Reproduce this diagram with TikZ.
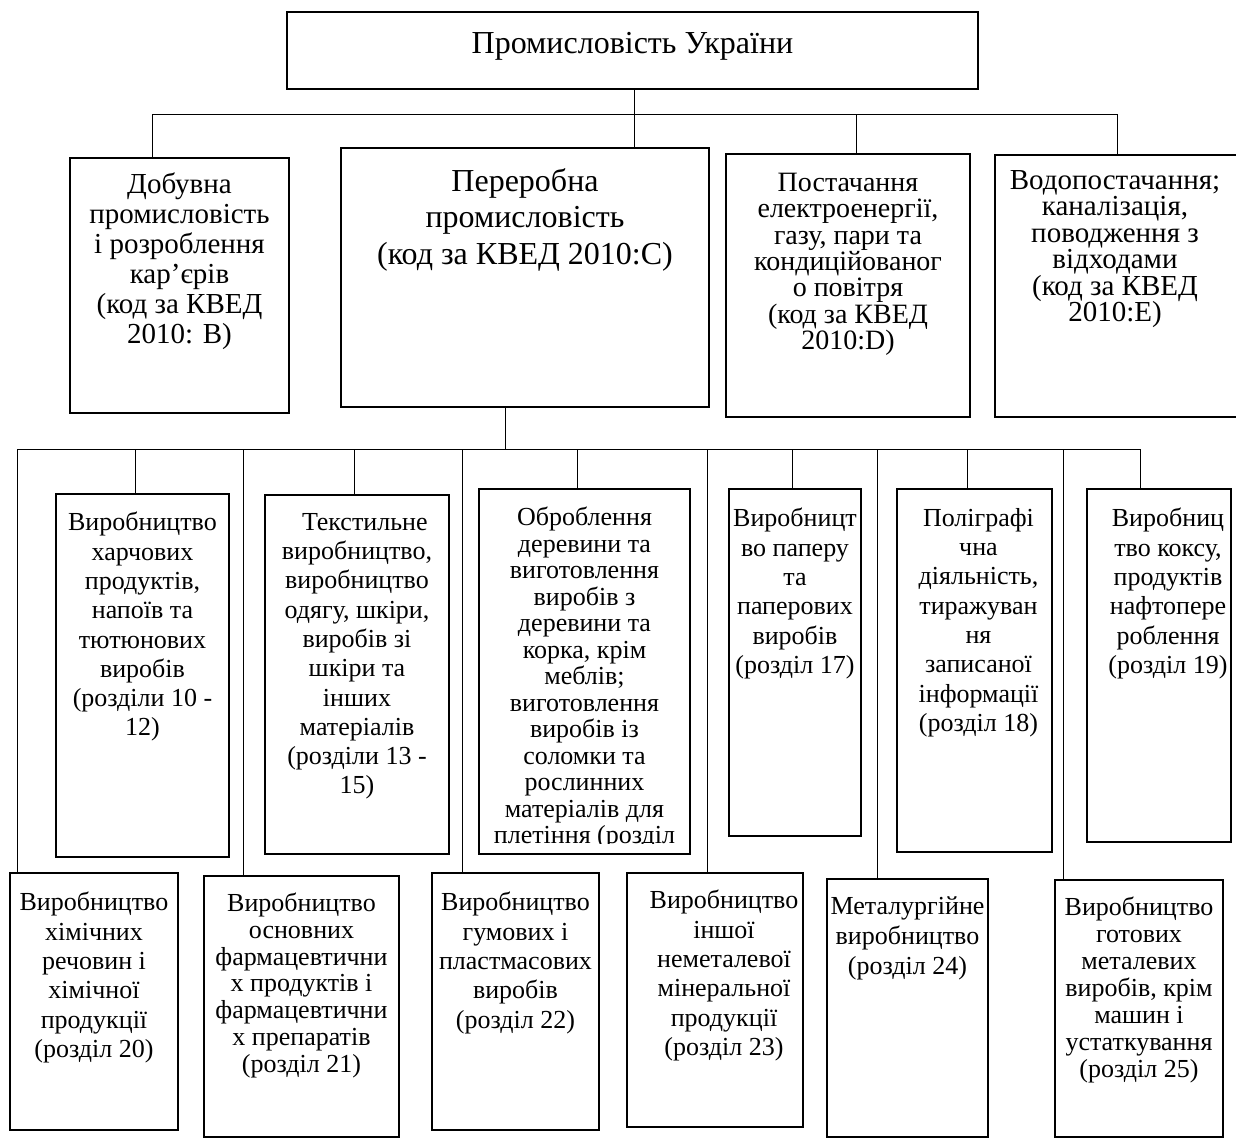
\documentclass[tikz,border=0pt]{standalone}
\usepackage{fontspec}
\setmainfont{Liberation Serif}
\usetikzlibrary{positioning}

\tikzset{
  box/.style={rectangle, draw, line width=2.2pt, inner sep=0pt, outer sep=0pt, anchor=north west},
  link/.style={line width=1pt},
  txt/.style={align=center, inner sep=0pt, anchor=north, font=\fontsize{26}{29.3}\selectfont},
}

\begin{document}
\begin{tikzpicture}[x=1pt, y=-1pt]
  \useasboundingbox (0,0) rectangle (1236,1138);

  % top level
  \node (top) [box, minimum width=691pt, minimum height=77pt] at (287,12) {};
  \node (topT) [txt, font=\fontsize{32}{36}\selectfont, below=20pt of top.north] {Промисловість України};

  % sections
  \node (dob) [box, minimum width=219pt, minimum height=255pt] at (70,158) {};
  \node (per) [box, minimum width=368pt, minimum height=259pt] at (341,148) {};
  \node (pos) [box, minimum width=244pt, minimum height=263pt] at (726,154) {};
  \node (vod) [box, minimum width=246pt, minimum height=262pt] at (995,155) {};
  \node (dobT) [txt, font=\fontsize{29}{30}\selectfont, below=15pt of dob.north] {Добувна\\промисловість\\і розроблення\\кар’єрів\\(код за КВЕД\\2010: B)};
  \node (perT) [txt, font=\fontsize{32}{36.5}\selectfont, below=20pt of per.north] {Переробна\\промисловість\\(код за КВЕД 2010:C)};
  \node (posT) [txt, font=\fontsize{28}{26.3}\selectfont, below=19pt of pos.north] {Постачання\\електроенергії,\\газу, пари та\\кондиційованог\\о повітря\\(код за КВЕД\\2010:D)};
  \node (vodT) [txt, font=\fontsize{29}{26.5}\selectfont, xshift=-3pt, below=15pt of vod.north] {Водопостачання;\\каналізація,\\поводження з\\відходами\\(код за КВЕД\\2010:E)};

  % divisions, upper row
  \node (harch) [box, minimum width=173pt, minimum height=363pt] at (56,494) {};
  \node (tekst) [box, minimum width=184pt, minimum height=359pt] at (265,495) {};
  \node (obr)   [box, minimum width=211pt, minimum height=365pt] at (479,489) {};
  \node (pap)   [box, minimum width=132pt, minimum height=347pt] at (729,489) {};
  \node (polig) [box, minimum width=155pt, minimum height=363pt] at (897,489) {};
  \node (koks)  [box, minimum width=144pt, minimum height=353pt] at (1087,489) {};
  \node (harchT) [txt, below=18pt of harch.north] {Виробництво\\харчових\\продуктів,\\напоїв та\\тютюнових\\виробів\\(розділи 10 -\\12)};
  \node (tekstT) [txt, below=18pt of tekst.north] {\hspace*{0.6em}Текстильне\\виробництво,\\виробництво\\одягу, шкіри,\\виробів зі\\шкіри та\\інших\\матеріалів\\(розділи 13 -\\15)};
  \begin{scope}
    \clip (obr.north west) rectangle (obr.east |- 0,843);
    \node (obrT) [txt, font=\fontsize{26}{26.5}\selectfont, below=18pt of obr.north] {Оброблення\\деревини та\\виготовлення\\виробів з\\деревини та\\корка, крім\\меблів;\\виготовлення\\виробів із\\соломки та\\рослинних\\матеріалів для\\плетіння (розділ};
  \end{scope}
  \node (papT)   [txt, below=19pt of pap.north] {Виробницт\\во паперу\\та\\паперових\\виробів\\(розділ 17)};
  \node (poligT) [txt, xshift=4pt, below=19pt of polig.north] {Поліграфі\\чна\\діяльність,\\тиражуван\\ня\\записаної\\інформації\\(розділ 18)};
  \node (koksT)  [txt, xshift=9pt, below=19pt of koks.north] {Виробниц\\тво коксу,\\продуктів\\нафтопере\\роблення\\(розділ 19)};

  % divisions, lower row
  \node (khim) [box, minimum width=168pt, minimum height=257pt] at (10,873) {};
  \node (farm) [box, minimum width=195pt, minimum height=261pt] at (204,876) {};
  \node (gum)  [box, minimum width=167pt, minimum height=257pt] at (432,873) {};
  \node (nem)  [box, minimum width=176pt, minimum height=254pt] at (627,873) {};
  \node (met)  [box, minimum width=161pt, minimum height=258pt] at (827,879) {};
  \node (got)  [box, minimum width=168pt, minimum height=257pt] at (1055,880) {};
  \node (khimT) [txt, below=19pt of khim.north] {Виробництво\\хімічних\\речовин і\\хімічної\\продукції\\(розділ 20)};
  \node (farmT) [txt, font=\fontsize{26}{26.7}\selectfont, below=17pt of farm.north] {Виробництво\\основних\\фармацевтични\\х продуктів і\\фармацевтични\\х препаратів\\(розділ 21)};
  \node (gumT)  [txt, below=19pt of gum.north] {Виробництво\\гумових і\\пластмасових\\виробів\\(розділ 22)};
  \node (nemT)  [txt, xshift=9pt, below=17pt of nem.north] {Виробництво\\іншої\\неметалевої\\мінеральної\\продукції\\(розділ 23)};
  \node (metT)  [txt, font=\fontsize{26}{30}\selectfont, below=17pt of met.north] {Металургійне\\виробництво\\(розділ 24)};
  \node (gotT)  [txt, font=\fontsize{26}{27}\selectfont, below=17pt of got.north] {Виробництво\\готових\\металевих\\виробів, крім\\машин і\\устаткування\\(розділ 25)};

  % first bus
  \coordinate (busA1) at (152,114);
  \coordinate (busA2) at (634,114);
  \coordinate (busA3) at (856,114);
  \coordinate (busA4) at (1117,114);
  \draw [link] (busA1) -- (busA4);
  \draw [link] (top.south -| busA2) -- (per.north -| busA2);
  \draw [link] (busA1) -- (dob.north -| busA1);
  \draw [link] (busA3) -- (pos.north -| busA3);
  \draw [link] (busA4) -- (vod.north -| busA4);

  % second bus
  \coordinate (busB1) at (17,449);
  \coordinate (busB2) at (1140,449);
  \coordinate (busB0) at (505,449);
  \draw [link] (busB1) -- (busB2);
  \draw [link] (per.south -| busB0) -- (busB0);
  \foreach \x/\n in {135/harch, 354/tekst, 577/obr, 792/pap, 967/polig, 1140/koks,
                     17/khim, 243/farm, 462/gum, 707/nem, 877/met, 1063/got} {
    \coordinate (j\n) at (\x,449);
    \draw [link] (j\n) -- (\n.north -| j\n);
  }
\end{tikzpicture}
\end{document}
